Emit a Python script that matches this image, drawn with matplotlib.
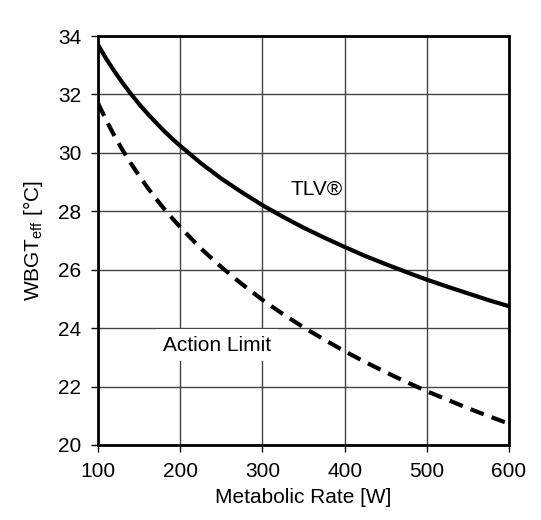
import matplotlib
matplotlib.use("Agg")
import matplotlib.pyplot as plt

plt.rcParams['font.family'] = ['Liberation Sans', 'DejaVu Sans']
plt.rcParams['mathtext.default'] = 'regular'

# ===== data =====
metabolic_rate = [100, 110, 120, 130, 140, 150, 160, 170, 180, 190, 200,
                  225, 250, 275, 300, 325, 350, 375, 400, 425, 450, 475,
                  500, 525, 550, 575, 600]
tlv = [33.70, 33.22, 32.79, 32.39, 32.02, 31.67, 31.35, 31.05, 30.76, 30.49,
       30.24, 29.65, 29.12, 28.65, 28.21, 27.81, 27.44, 27.10, 26.78, 26.47,
       26.19, 25.92, 25.66, 25.42, 25.19, 24.96, 24.75]
action_limit = [31.70, 31.12, 30.58, 30.09, 29.64, 29.22, 28.82, 28.45, 28.10,
                27.77, 27.46, 26.73, 26.09, 25.51, 24.97, 24.48, 24.03, 23.61,
                23.21, 22.84, 22.49, 22.16, 21.84, 21.55, 21.26, 20.99, 20.73]
x_ticks = [100, 200, 300, 400, 500, 600]
y_ticks = [20, 22, 24, 26, 28, 30, 32, 34]

fig = plt.figure(figsize=(5.41, 5.20), dpi=100)
ax = fig.add_axes([98 / 541, 1 - 445 / 520, (509 - 98) / 541, (445 - 36) / 520])

# grid
ax.grid(True, color="#444444", linewidth=1.0)
ax.set_axisbelow(True)

# curves
ax.plot(metabolic_rate, tlv, color="black", linewidth=3.0, solid_capstyle="butt")
ax.plot(metabolic_rate, action_limit, color="black", linewidth=3.0,
        linestyle=(0, (3.4, 2.0)), dash_capstyle="butt")

# labels on the curves
ax.text(366, 28.75, "TLV®", fontsize=15, ha="center", va="center")
ax.text(245, 23.42, "Action Limit", fontsize=15, ha="center", va="center",
        bbox=dict(facecolor="white", edgecolor="none", pad=5))

ax.set_xlim(100, 600)
ax.set_ylim(20, 34)
ax.set_xticks(x_ticks)
ax.set_yticks(y_ticks)
ax.tick_params(labelsize=15, direction="out", length=5, width=1.0, pad=7)
for s in ax.spines.values():
    s.set_linewidth(2.0)

ax.set_xlabel("Metabolic Rate [W]", fontsize=15, labelpad=5)
ax.set_ylabel(r"WBGT$_{eff}$ [°C]", fontsize=15, labelpad=9)

plt.savefig("out.png", dpi=100)
